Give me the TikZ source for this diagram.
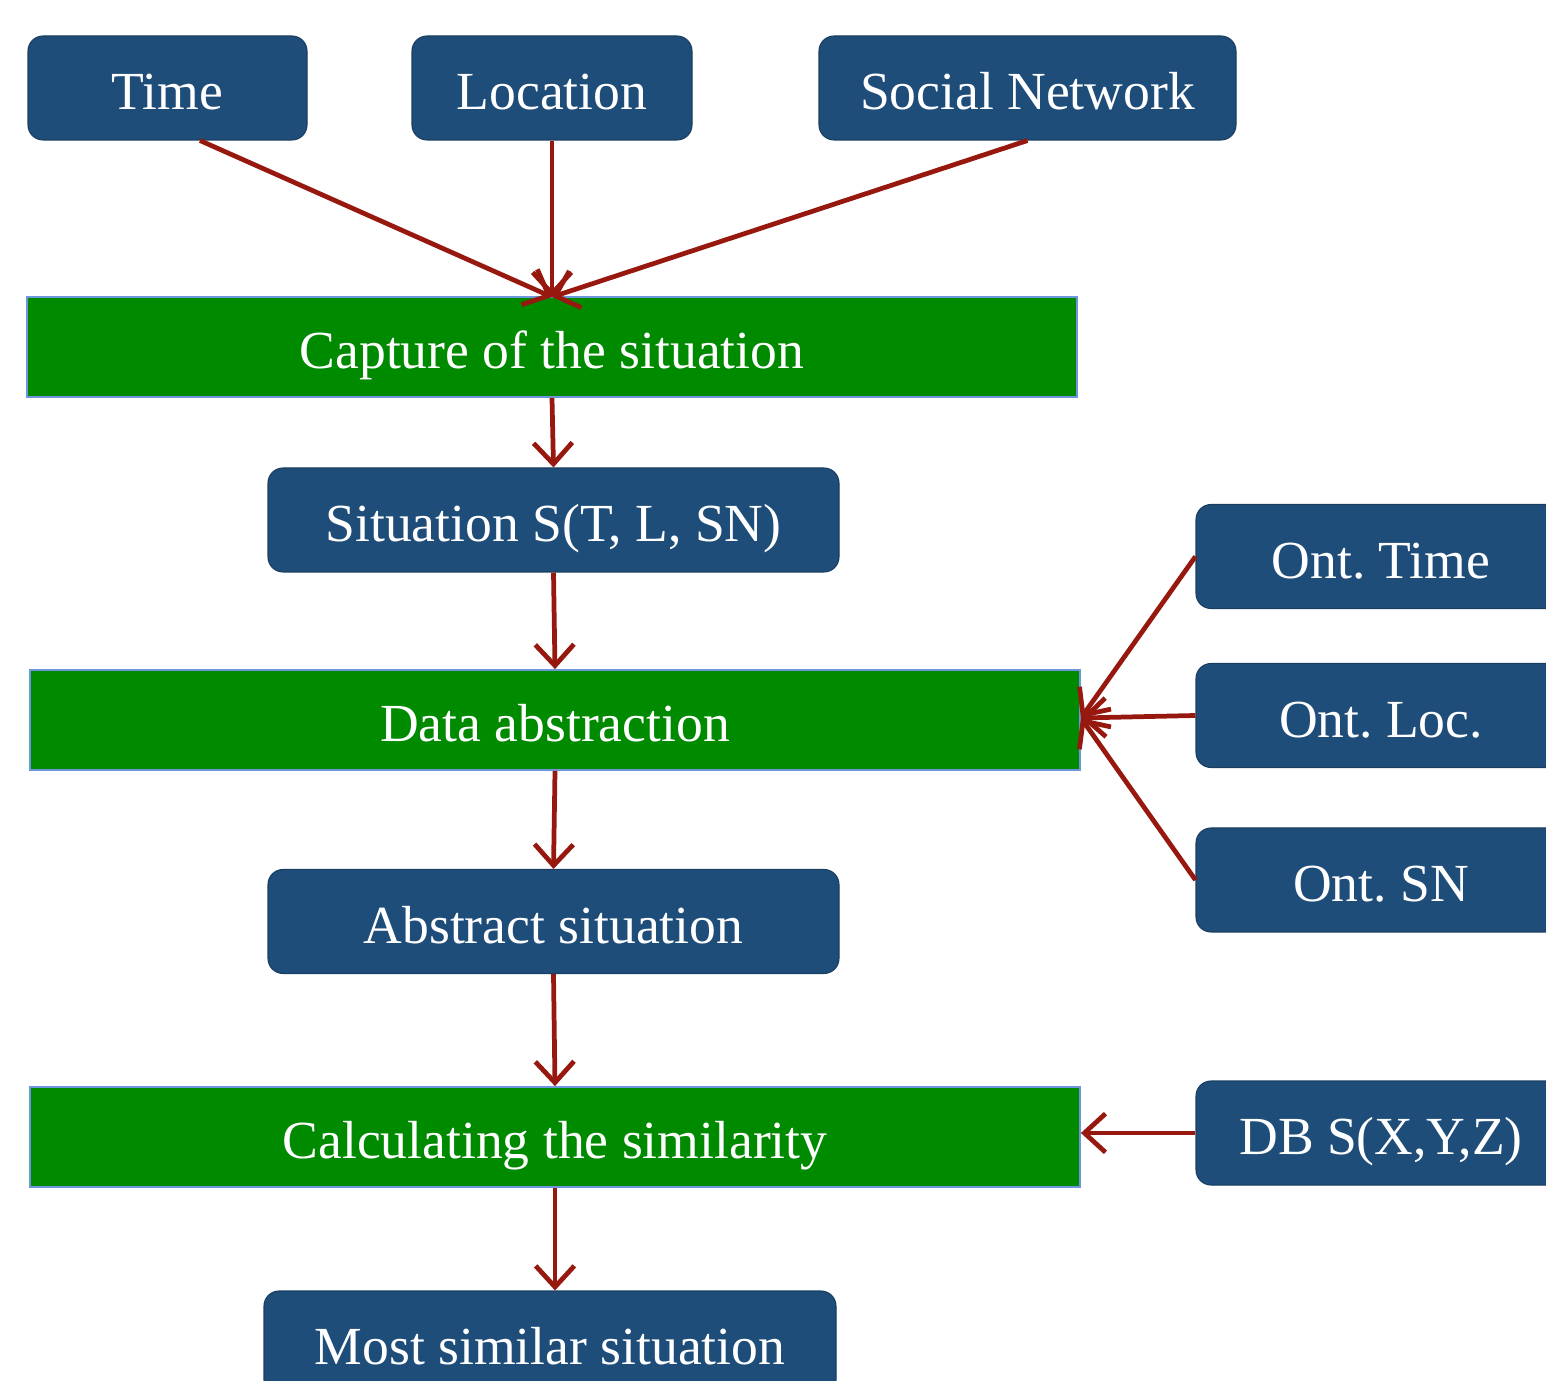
\documentclass[tikz,border=0pt]{standalone}
\usepackage{fontspec}
\setmainfont{Liberation Serif}
\usetikzlibrary{arrows.meta}
\definecolor{boxblue}{RGB}{31,77,122}
\definecolor{boxgreen}{RGB}{0,138,0}
\definecolor{edgeblue}{RGB}{110,150,220}
\definecolor{arrred}{RGB}{150,24,14}
\tikzset{
  txt/.style={text=white, font=\fontsize{30.5}{33}\selectfont\frenchspacing, inner sep=0pt, text height=25pt, text depth=0pt},
  bluebox/.style={txt, draw=boxblue!80!black, line width=0.6pt, fill=boxblue, rounded corners=0.3cm, minimum height=104*0.02cm},
  greenbox/.style={txt, draw=edgeblue, line width=1pt, fill=boxgreen, minimum height=100*0.02cm, minimum width=1050*0.02cm},
  conn/.style={draw=arrred, line width=2.7pt, -{Straight Barb[length=12pt,width=22pt,line width=2.7pt]}}
}
\begin{document}
\begin{tikzpicture}[x=0.02cm,y=-0.02cm]
\useasboundingbox (0,0) rectangle (1546,1381);
\clip (0,0) rectangle (1546,1381);
\node[bluebox, minimum width=279*0.02cm] (time) at (167.5,88) {Time};
\node[bluebox, minimum width=280*0.02cm] (loc) at (552,88) {Location};
\node[bluebox, minimum width=417*0.02cm] (sn) at (1027.5,88) {Social Network};
\node[greenbox] (capture) at (552,347) {Capture of the situation};
\node[bluebox, minimum width=571*0.02cm] (sit) at (553.5,520) {Situation S(T, L, SN)};
\node[greenbox] (data) at (555,720) {Data abstraction};
\node[bluebox, minimum width=571*0.02cm] (abs) at (553.5,921.5) {Abstract situation};
\node[greenbox] (calc) at (555,1137) {Calculating the similarity};
\node[bluebox, minimum width=572*0.02cm] (most) at (550,1343) {Most similar situation};
\node[bluebox, minimum width=370*0.02cm] (otime) at (1381,556.5) {Ont. Time};
\node[bluebox, minimum width=370*0.02cm] (oloc) at (1381,715.5) {Ont. Loc.};
\node[bluebox, minimum width=370*0.02cm] (osn) at (1381,880) {Ont. SN};
\node[bluebox, minimum width=370*0.02cm] (db) at (1381,1133) {DB S(X,Y,Z)};
\coordinate (cin) at (552,297);
\coordinate (din) at (1081,718);
\path[conn] (time.south -| 200,0) -- (cin);
\path[conn] (loc.south) -- (cin);
\path[conn] (sn.south) -- (cin);
\path[conn] (capture.south) -- (sit.north);
\path[conn] (sit.south) -- (data.north);
\path[conn] (data.south) -- (abs.north);
\path[conn] (abs.south) -- (calc.north);
\path[conn] (calc.south) -- (calc.south |- most.north);
\path[conn] (otime.west) -- (din);
\path[conn] (oloc.west) -- (din);
\path[conn] (osn.west) -- (din);
\path[conn] (db.west) -- (calc.east |- db.west);
\end{tikzpicture}
\end{document}
